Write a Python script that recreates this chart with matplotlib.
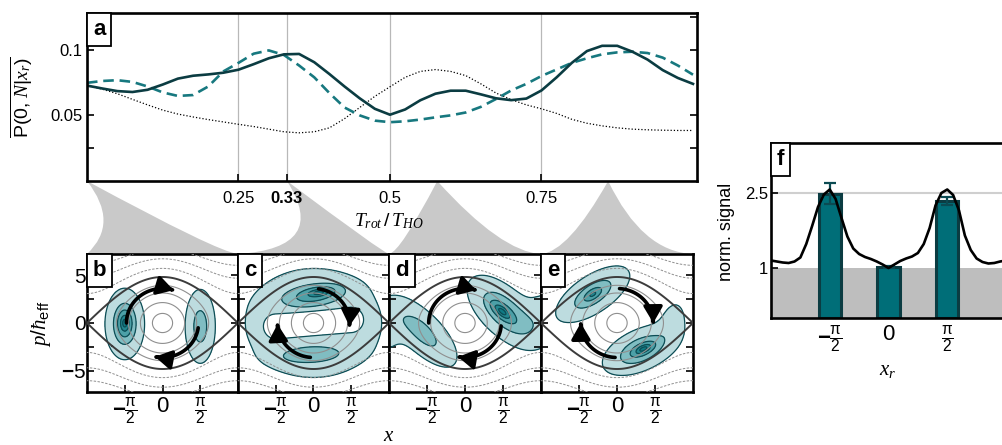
import numpy as np
import matplotlib
matplotlib.use('Agg')
import matplotlib.pyplot as plt
from matplotlib.path import Path
from matplotlib.patches import PathPatch, FancyArrowPatch

plt.rcParams['font.family'] = ['Liberation Sans', 'DejaVu Sans']
plt.rcParams['mathtext.fontset'] = 'custom'
plt.rcParams['mathtext.rm'] = 'Liberation Sans'
plt.rcParams['mathtext.sf'] = 'Liberation Sans'
plt.rcParams['mathtext.it'] = 'Liberation Serif:italic'
plt.rcParams['mathtext.bf'] = 'Liberation Sans:bold'

# ---- panel a: averaged probability vs rotation period ----
t_rot = np.linspace(0, 1, 41)
p_exp = [0.0727, 0.0705, 0.0685, 0.0678, 0.0695, 0.0735, 0.0780, 0.0802, 0.0812, 0.0825,
         0.0848, 0.0890, 0.0935, 0.0965, 0.0968, 0.0905, 0.0815, 0.0720, 0.0630, 0.0550,
         0.0505, 0.0545, 0.0615, 0.0665, 0.0688, 0.0688, 0.0660, 0.0630, 0.0616, 0.0628,
         0.0690, 0.0790, 0.0900, 0.0990, 0.1030, 0.1030, 0.0985, 0.0925, 0.0845, 0.0785,
         0.0740]
p_sim = [0.0748, 0.0762, 0.0768, 0.0755, 0.0720, 0.0675, 0.0648, 0.0655, 0.0720, 0.0835,
         0.0900, 0.0970, 0.0995, 0.0960, 0.0880, 0.0790, 0.0670, 0.0560, 0.0500, 0.0460,
         0.0448, 0.0455, 0.0468, 0.0485, 0.0500, 0.0522, 0.0565, 0.0625, 0.0690, 0.0740,
         0.0800, 0.0850, 0.0900, 0.0935, 0.0965, 0.0980, 0.0985, 0.0975, 0.0940, 0.0880,
         0.0810]
p_ref = [0.0727, 0.0700, 0.0665, 0.0622, 0.0580, 0.0540, 0.0510, 0.0488, 0.0468, 0.0450,
         0.0432, 0.0415, 0.0395, 0.0375, 0.0367, 0.0375, 0.0405, 0.0475, 0.0560, 0.0645,
         0.0718, 0.0790, 0.0835, 0.0849, 0.0835, 0.0803, 0.0740, 0.0670, 0.0620, 0.0580,
         0.0550, 0.0515, 0.0470, 0.0440, 0.0420, 0.0405, 0.0395, 0.0390, 0.0387, 0.0385,
         0.0385]
t_marks = [0.25, 0.33, 0.5, 0.75]
t_snap = [0.0, 0.33, 0.578, 0.86]       # rotation periods shown in b-e

# ---- panels b-e: Husimi blobs (x, p, sigma_long, sigma_short, angle, amplitude) ----
P_SCALE = 2.5
husimi_b = [(-1.57, -0.1, 0.76, 0.42, 90, 0.55),
            (-1.57, 0.0, 0.30, 0.16, 90, 0.45),
            (1.57, -0.35, 0.86, 0.35, 90, 0.40)]
husimi_c = [(0.0, 2.9, 0.95, 0.33, 8, 0.55),
            (0.25, 3.2, 0.35, 0.12, 8, 0.45),
            (-0.1, -3.3, 1.0, 0.28, 3, 0.40)]
ring_c = dict(outer=(2.95, 5.9), hole=(2.05, 1.25), tilt=5, level=0.12)
husimi_d = [(1.6, 1.2, 1.0, 0.5, -45, 0.5),
            (1.53, 1.2, 0.35, 0.15, -40, 0.5),
            (-1.74, -1.0, 1.05, 0.45, -46, 0.38),
            (3.0, 0.0, 0.6, 0.6, 0, 0.15)]
husimi_e = [(-1.0, 3.0, 0.95, 0.42, 34, 0.45),
            (-1.0, 3.0, 0.25, 0.12, 34, 0.35),
            (1.0, -2.8, 0.9, 0.45, 25, 0.5),
            (1.1, -2.7, 0.3, 0.13, 25, 0.5),
            (2.3, 0.3, 0.6, 0.35, 75, 0.14)]
husimi_levels = [0.08, 0.3, 0.5, 0.75, 0.93]
husimi_colors = ['#bddcdf', '#80bdc2', '#4ca0a7', '#23878f', '#107a84']

# rotation arrows (start, end angle in degrees)
arrows = {'b': [(180, 72), (-8, -102)],
          'c': [(82, -5), (-95, -178)],
          'd': [(180, 72), (-5, -101)],
          'e': [(86, 0), (-93, -180)]}

# pendulum phase space
V0 = 5.76
lib_amp = [0.42, 0.92, 1.42, 1.92]
rot_p0 = [5.7, 6.7, 7.7]

# ---- panel f: normalized signal ----
xr = np.linspace(-1, 1, 41) * np.pi
signal = [1.15, 1.13, 1.11, 1.10, 1.13, 1.21, 1.48, 1.84, 2.22, 2.47,
          2.57, 2.38, 2.00, 1.63, 1.39, 1.28, 1.22, 1.18, 1.13, 1.07,
          1.00, 1.07, 1.14, 1.19, 1.23, 1.30, 1.48, 1.80, 2.25, 2.50,
          2.57, 2.46, 2.15, 1.65, 1.36, 1.19, 1.12, 1.09, 1.10, 1.13,
          1.15]
bar_x = [-np.pi / 2, 0, np.pi / 2]
bar_h = [2.49, 1.02, 2.35]
bar_err = [0.21, 0.02, 0.08]

W, H = 1003, 445
fig = plt.figure(figsize=(W / 100, H / 100), dpi=100)


def px_axes(l, t, r, b):
    return fig.add_axes([l / W, 1 - b / H, (r - l) / W, (b - t) / H])


def letter(ax, s):
    ax.annotate(s, xy=(0, 1), xycoords='axes fraction', xytext=(4.3, -4.3),
                textcoords='offset points', ha='left', va='top', fontsize=16,
                fontweight='bold', zorder=10,
                bbox=dict(boxstyle='square,pad=0.27', fc='white', ec='black', lw=1.3))


def spines(ax, lw=1.9):
    for sp in ax.spines.values():
        sp.set_linewidth(lw)


frac_labels = [r'$\mathbf{-}\frac{\mathrm{\pi}}{2}$', '0', r'$\frac{\mathrm{\pi}}{2}$']

# ---------------- panel a ----------------
ax_a = px_axes(87, 13, 697, 181)
for t in t_marks:
    ax_a.axvline(t, color='#b8b8b8', lw=0.9, zorder=0)
ax_a.plot(t_rot, p_ref, color='black', lw=0.9, ls=(0, (1, 1.6)))
ax_a.plot(t_rot, p_sim, color='#17787f', lw=1.9, ls=(0, (4, 2.2)))
ax_a.plot(t_rot, p_exp, color='#0b3c42', lw=1.9)
ax_a.set_xlim(0, 610 / 606)
ax_a.set_ylim(0, 0.128)
ax_a.set_xticks(t_marks)
ax_a.set_xticklabels(['0.25', '0.33', '0.5', '0.75'])
ax_a.get_xticklabels()[1].set_fontweight('bold')
ax_a.set_yticks([0.025, 0.05, 0.1, 0.125])
ax_a.set_yticklabels(['', '0.05', '0.1', ''])
ax_a.tick_params(direction='in', length=5, width=1.2, labelsize=12, right=True)
ax_a.tick_params(axis='x', pad=7)
spines(ax_a)
letter(ax_a, 'a')
fig.text(22 / W, 1 - 97 / H, r'$\overline{\mathrm{P}(0,\,N|x_r)}$', rotation=90,
         ha='center', va='center', fontsize=14)
fig.text(389 / W, 1 - 221 / H, r'$T_{rot}\,/\,T_{HO}$', ha='center', va='center',
         fontsize=14)

# ---------------- panels b-e ----------------
xs = np.linspace(-np.pi, np.pi, 361)
ps = np.linspace(-7.2, 7.2, 301)
XX, PP = np.meshgrid(xs, ps)
ham = PP ** 2 / 2 - V0 * np.cos(XX)
lib_levels = sorted(-V0 * np.cos(a) for a in lib_amp)
rot_levels = sorted(p0 ** 2 / 2 - V0 for p0 in rot_p0)


def husimi(blobs, ring=None):
    u, w = XX, PP / P_SCALE
    z = np.zeros_like(XX)
    for x0, p0, sl, ss, ang, amp in blobs:
        du = (u - x0 + np.pi) % (2 * np.pi) - np.pi
        dw = w - p0 / P_SCALE
        a = np.radians(ang)
        al = du * np.cos(a) + dw * np.sin(a)
        ac = -du * np.sin(a) + dw * np.cos(a)
        z += amp * np.exp(-0.5 * ((al / sl) ** 2 + (ac / ss) ** 2))
    if ring is not None:
        ao, bo = ring['outer'][0], ring['outer'][1] / P_SCALE
        rho = np.sqrt((u / ao) ** 2 + (w / bo) ** 2)
        z += ring['level'] / (1 + np.exp((rho - 1) / 0.04))
        ah, bh = ring['hole'][0], ring['hole'][1] / P_SCALE
        t = np.radians(ring['tilt'])
        uh = u * np.cos(t) + w * np.sin(t)
        wh = -u * np.sin(t) + w * np.cos(t)
        half = ah - bh
        du = np.clip(np.abs(uh) - half, 0, None)
        rh = np.sqrt(du ** 2 + wh ** 2) / bh
        z *= 1 / (1 + np.exp(-(rh - 1) / 0.08))
    return z / z.max()


def orbit_arrow(ax, th0, th1):
    th = np.radians(np.linspace(th0, th1, 60))
    verts = np.column_stack([1.5 * np.cos(th), 3.6 * np.sin(th)])
    arr = FancyArrowPatch(path=Path(verts), arrowstyle='-|>,head_length=0.65,head_width=0.38',
                          mutation_scale=15, lw=2.6, color='black', zorder=6)
    ax.add_patch(arr)


edges = [87, 238, 389, 541, 693]
panels = [('b', husimi_b, None), ('c', husimi_c, ring_c),
          ('d', husimi_d, None), ('e', husimi_e, None)]
phase_axes = []
for i, (name, blobs, ring) in enumerate(panels):
    ax = px_axes(edges[i], 254, edges[i + 1], 392)
    phase_axes.append(ax)
    z = husimi(blobs, ring)
    ax.contourf(xs, ps, z, levels=husimi_levels + [1.01], colors=husimi_colors, zorder=1)
    ax.contour(xs, ps, z, levels=husimi_levels, colors='#0d4d55', linewidths=0.9, zorder=2)
    ax.contour(xs, ps, ham, levels=lib_levels, colors='#8f8f8f', linewidths=0.8,
               linestyles='solid', zorder=3)
    ax.contour(xs, ps, ham, levels=rot_levels, colors='#8f8f8f', linewidths=0.7,
               linestyles=[(0, (2.5, 1.5))], zorder=3)
    ax.contour(xs, ps, ham, levels=[V0], colors='#3c3c3c', linewidths=1.4,
               linestyles='solid', zorder=4)
    for th0, th1 in arrows[name]:
        orbit_arrow(ax, th0, th1)
    ax.set_xlim(-np.pi, np.pi)
    ax.set_ylim(-7.2, 7.2)
    ax.set_xticks([-np.pi / 2, 0, np.pi / 2])
    ax.set_xticklabels(frac_labels)
    ax.set_yticks([-5, 0, 5])
    ax.set_yticks([-2.5, 2.5], minor=True)
    if i == 0:
        ax.set_yticklabels([r'$\mathbf{-}5$', '0', '5'])
    else:
        ax.set_yticklabels([])
    ax.tick_params(which='both', direction='in', length=5, width=1.2, right=True)
    ax.tick_params(axis='x', labelsize=16, pad=3)
    ax.tick_params(axis='y', labelsize=15, pad=1)
    spines(ax)
    letter(ax, name)

fig.text(41 / W, 1 - 324 / H, r'$p/\hbar_{\mathrm{eff}}$', rotation=90, ha='center',
         va='center', fontsize=15)
fig.text(389 / W, 1 - 441 / H, r'$x$', ha='center', va='baseline', fontsize=15)


# connectors from the T axis to the snapshot panels
def connector(t, ax_p, ctrl_l, ctrl_r):
    top = ax_a.transData.transform((t, 0))
    left = ax_p.transAxes.transform((0, 1))
    right = ax_p.transAxes.transform((1, 1))
    cl = top + np.array([ctrl_l[0], -ctrl_l[1]])
    cr = top + np.array([ctrl_r[0], -ctrl_r[1]])
    verts = np.array([top, cl, left, right, cr, top, top])
    codes = [Path.MOVETO, Path.CURVE3, Path.CURVE3, Path.LINETO,
             Path.CURVE3, Path.CURVE3, Path.CLOSEPOLY]
    fv = fig.transFigure.inverted().transform(verts)
    fig.add_artist(PathPatch(Path(fv, codes), transform=fig.transFigure,
                             fc='#c9c9c9', ec='none', zorder=-1))


ctrl = [((33, 42), (131, 71)), ((43, 67), (95, 71)),
        ((-37, 71), (64, 71)), ((-40, 71), (34, 71))]
for t, ax_p, (cl, cr) in zip(t_snap, phase_axes, ctrl):
    connector(t, ax_p, cl, cr)

# ---------------- panel f ----------------
ax_f = px_axes(771, 143, 1006, 318)
ax_f.axhspan(0, 1, color='#bebebe', lw=0, zorder=0)
ax_f.axhline(2.5, color='#cfcfcf', lw=1.5, zorder=0)
ax_f.bar(bar_x, bar_h, width=0.6, color='#006e78', edgecolor='#0b3c42', lw=2.2, zorder=2)
ax_f.errorbar(bar_x, bar_h, yerr=bar_err, fmt='none', ecolor='#0b4a52', elinewidth=1.6,
              capsize=4, capthick=1.6, zorder=3)
ax_f.plot(xr, signal, color='black', lw=1.9, zorder=4)
ax_f.set_xlim(-np.pi, np.pi)
ax_f.set_ylim(0, 3.5)
ax_f.set_xticks([-np.pi / 2, 0, np.pi / 2])
ax_f.set_xticklabels(frac_labels)
ax_f.set_yticks([1, 2.5])
ax_f.set_yticklabels(['1', '2.5'])
ax_f.tick_params(direction='in', length=5, width=1.2)
ax_f.tick_params(axis='x', labelsize=16, pad=4)
ax_f.tick_params(axis='y', labelsize=12, pad=2)
spines(ax_f)
letter(ax_f, 'f')
fig.text(727 / W, 1 - 232 / H, 'norm. signal', rotation=90, ha='center', va='center',
         fontsize=13)
fig.text(888 / W, 1 - 370 / H, r'$x_r$', ha='center', va='center', fontsize=15)

fig.savefig('out.png', dpi=100)
